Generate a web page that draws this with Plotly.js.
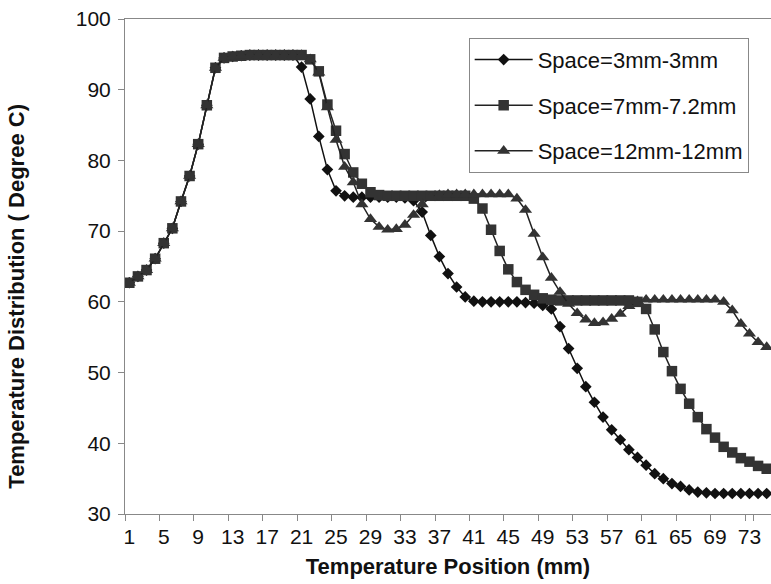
<!DOCTYPE html>
<html>
<head>
<meta charset="utf-8">
<script src="https://cdn.plot.ly/plotly-3.0.1.min.js"></script>
<style>html,body{margin:0;padding:0;background:#fff;}#chart{width:771px;height:584px;}</style>
</head>
<body>
<div id="chart"></div>
<script>
// Temperature positions (mm) - categories
const positions = ["1","2","3","4","5","6","7","8","9","10","11","12","13","14","15","16","17","18","19","20",
"21","22","23","24","25","26","27","28","29","30","31","32","33","34","35","36","37","38","39","40",
"41","42","43","44","45","46","47","48","49","50","51","52","53","54","55","56","57","58","59","60",
"61","62","63","64","65","66","67","68","69","70","71","72","73","74","75"];

const seriesNames = ["Space=3mm-3mm", "Space=7mm-7.2mm", "Space=12mm-12mm"];

const space3mm = [62.7,63.6,64.5,66.1,68.3,70.4,74.2,77.8,82.3,87.8,93.1,94.5,94.7,94.8,94.9,94.9,94.9,94.9,94.9,94.9,
93.2,88.7,83.4,78.7,75.7,75.0,74.8,74.8,74.8,74.8,74.8,74.8,74.7,74.3,72.7,69.4,66.4,64.0,62.1,60.7,
60.1,60.0,60.0,60.0,60.0,60.0,59.9,59.8,59.5,59.0,56.5,53.4,50.6,48.0,45.8,43.7,41.9,40.5,39.1,38.0,
36.9,35.7,35.0,34.3,33.9,33.4,33.1,33.0,32.9,32.9,32.9,32.9,32.9,32.9,32.9];

const space7mm = [62.7,63.6,64.5,66.1,68.3,70.4,74.2,77.8,82.3,87.8,93.1,94.5,94.7,94.8,94.9,94.9,94.9,94.9,94.9,94.9,
94.9,94.3,92.6,87.9,84.2,80.9,78.3,76.7,75.5,75.1,75.0,75.0,75.0,75.0,75.0,75.0,75.0,75.0,75.0,75.0,
74.6,73.2,70.2,67.2,64.6,62.8,61.7,61.0,60.5,60.3,60.2,60.2,60.2,60.2,60.2,60.2,60.2,60.2,60.2,60.0,
59.0,56.1,52.9,50.2,47.7,45.6,43.7,42.0,40.8,39.5,38.7,37.9,37.4,36.8,36.4];

const space12mm = [62.7,63.6,64.5,66.1,68.3,70.4,74.2,77.8,82.3,87.8,93.1,94.5,94.7,94.8,94.9,94.9,94.9,94.9,94.9,94.9,
94.9,94.3,92.4,87.5,82.9,79.1,76.9,73.8,71.7,70.6,70.2,70.3,70.9,72.3,73.8,74.8,75.1,75.2,75.2,75.2,
75.2,75.2,75.2,75.2,75.2,74.6,73.0,69.6,66.3,63.4,61.4,59.7,58.4,57.5,57.0,57.1,57.6,58.3,59.4,60.1,
60.3,60.3,60.3,60.3,60.3,60.3,60.3,60.3,60.3,60.0,58.8,56.9,55.5,54.3,53.6];

const xTickLabels = ["1","5","9","13","17","21","25","29","33","37","41","45","49","53","57","61","65","69","73"];

const xTitle = "Temperature Position (mm)";
const yTitle = "Temperature Distribution ( Degree C)";

const FONT = "Arial, 'Liberation Sans', sans-serif";

const traces = [
  {x: positions, y: space3mm, name: seriesNames[0], type: "scatter", mode: "lines+markers",
   legendgroup: "a",
   line: {color: "#111", width: 1.5},
   marker: {symbol: "diamond", size: 9, color: "#111"}},
  {x: positions, y: space7mm, name: seriesNames[1], type: "scatter", mode: "lines+markers",
   legendgroup: "b",
   line: {color: "#222", width: 1.5},
   marker: {symbol: "square", size: 10.5, color: "#333"}},
  {x: positions, y: space12mm, name: seriesNames[2], type: "scatter", mode: "lines+markers",
   legendgroup: "c",
   line: {color: "#222", width: 1.5},
   marker: {symbol: "triangle-up", size: 11.5, color: "#333"}}
];

const layout = {
  width: 771, height: 584,
  margin: {l: 125, r: 0, t: 19, b: 70},
  paper_bgcolor: "#fff", plot_bgcolor: "#fff",
  font: {family: FONT, color: "#111", size: 21},
  showlegend: true,
  legend: {
    x: 0.532, y: 0.962, xanchor: "left", yanchor: "top",
    bordercolor: "#888", borderwidth: 1, bgcolor: "#fff",
    font: {family: FONT, size: 22, color: "#111"},
    traceorder: "grouped", tracegroupgap: 14,
    itemwidth: 58
  },
  xaxis: {
    type: "category",
    range: [-0.5, 74.5],
    tickmode: "array", tickvals: xTickLabels, ticktext: xTickLabels,
    tickson: "boundaries", tickangle: 0,
    ticks: "outside", ticklen: 6, tickcolor: "#888", tickwidth: 1,
    ticklabelstandoff: 4,
    showline: true, linecolor: "#888", linewidth: 1, mirror: true,
    showgrid: false, zeroline: false,
    tickfont: {family: FONT, size: 21, color: "#111"},
    title: {text: "<b>" + xTitle + "</b>", font: {family: FONT, size: 22, color: "#111"}, standoff: 11}
  },
  yaxis: {
    range: [30, 100], dtick: 10, tick0: 30,
    ticks: "outside", ticklen: 6, tickcolor: "#888", tickwidth: 1,
    ticklabelstandoff: 3,
    showline: true, linecolor: "#888", linewidth: 1,
    showgrid: false, zeroline: false,
    tickfont: {family: FONT, size: 21, color: "#111"}
  },
  annotations: [{
    text: "<b>" + yTitle + "</b>", xref: "paper", yref: "paper",
    x: -0.168, y: 0.44, xanchor: "center", yanchor: "middle",
    textangle: -90, showarrow: false,
    font: {family: FONT, size: 22, color: "#111"}
  }]
};

Plotly.newPlot("chart", traces, layout, {displayModeBar: false, staticPlot: true});
</script>
</body>
</html>
